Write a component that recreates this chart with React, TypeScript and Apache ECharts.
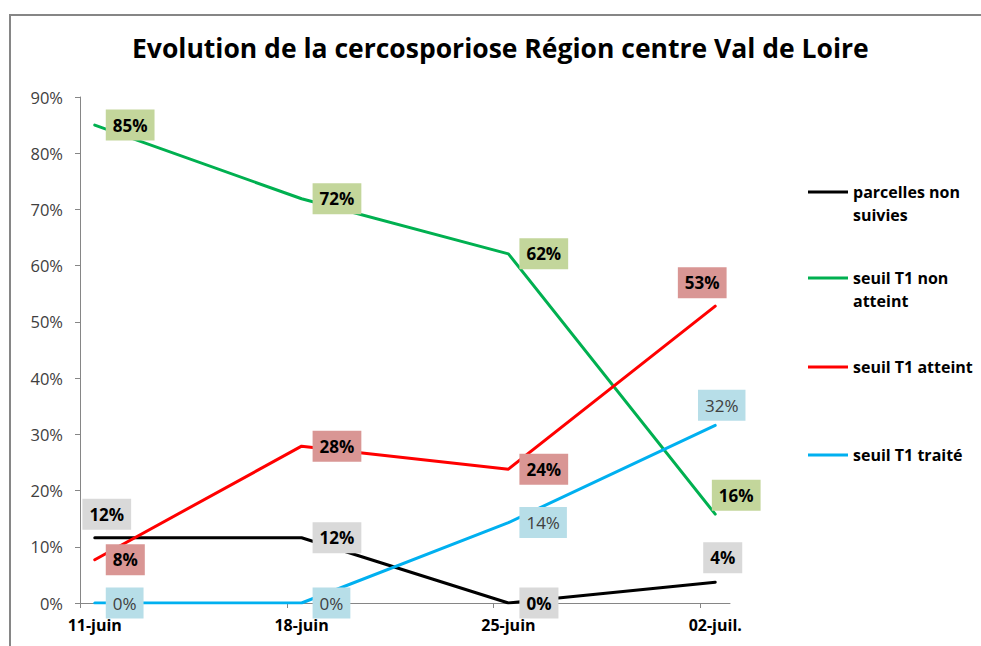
import React, { useEffect, useRef } from "react";
import * as echarts from "echarts";

// ---- data ----
const categories = ["11-juin", "18-juin", "25-juin", "02-juil."];
const seriesNames = [
  "parcelles non\nsuivies",
  "seuil T1 non\natteint",
  "seuil T1 atteint",
  "seuil T1 traité",
];
const parcellesNonSuivies = [0.116, 0.116, 0, 0.037];
const seuilNonAtteint = [0.85, 0.719, 0.621, 0.158];
const seuilAtteint = [0.077, 0.279, 0.238, 0.528];
const seuilTraite = [0, 0, 0.143, 0.316];
const yTicks = [0, 0.1, 0.2, 0.3, 0.4, 0.5, 0.6, 0.7, 0.8, 0.9];

// ---- styles ----
const FONT = "Open Sans";
const lineColors = ["#000000", "#00b050", "#ff0000", "#00b0f0"];
const labelBg = ["#d9d9d9", "#c3d69b", "#d99694", "#b7dee8"];
const labelColor = ["#000", "#000", "#000", "#404040"];
const labelWeight = ["bold", "bold", "bold", "normal"];

// label placement per series / point: "r" = right of point, otherwise [dx, dy] of box centre
const placements: any[][] = [
  [[12, -23.5], "r", "r", [7.5, -24.5]],
  ["r", "r", "r", [21, -19]],
  ["r", "r", "r", [-13, -23.5]],
  ["r", "r", "r", [6.5, -20]],
];
const legendTops = [157.5, 243.5, 355.5, 443.5];

const xPos = (i: number) => i * 7 + 0.5;

export default function App() {
  const ref = useRef<HTMLDivElement>(null);
  useEffect(() => {
    if (!ref.current) return;
    const chart = echarts.init(ref.current, null, { renderer: "svg" });
    const values = [parcellesNonSuivies, seuilNonAtteint, seuilAtteint, seuilTraite];
    const series = values.map((vals, s) => ({
      type: "line",
      name: seriesNames[s],
      symbol: "circle",
      symbolSize: 1,
      color: lineColors[s],
      lineStyle: { width: 3, color: lineColors[s], cap: "round", join: "round" },
      itemStyle: { color: lineColors[s] },
      data: vals.map((v, i) => {
        const p = placements[s][i];
        const lab =
          p === "r"
            ? { position: [11.5, 0.5], align: "left", verticalAlign: "middle" }
            : { position: [p[0] + 0.5, p[1] + 0.5], align: "center", verticalAlign: "middle" };
        return { value: [xPos(i), v], label: lab };
      }),
      label: {
        show: true,
        formatter: (pr: any) => Math.round(pr.value[1] * 100) + "%",
        fontFamily: FONT,
        fontSize: 17,
        fontWeight: labelWeight[s],
        color: labelColor[s],
        backgroundColor: labelBg[s],
        padding: [6, 7, 6, 7],
        lineHeight: 19,
      },
      emphasis: { disabled: true },
      z: 2 + s,
    }));
    const legends = seriesNames.map((n, s) => ({
      data: [{ name: n, icon: "rect" }],
      left: 808,
      top: legendTops[s],
      padding: 0,
      itemWidth: 40,
      itemHeight: 3,
      selectedMode: false,
      formatter: (name: string) => (name.includes("\n") ? "\n" + name : name),
      textStyle: {
        fontFamily: FONT,
        fontSize: 16,
        fontWeight: "bold",
        color: "#000",
        lineHeight: 23,
      },
    }));
    chart.setOption({
      animation: false,
      title: {
        text: "Evolution de la cercosporiose Région centre Val de Loire",
        left: 132,
        top: 34,
        padding: 0,
        textStyle: { fontFamily: FONT, fontSize: 26.5, fontWeight: "bold", color: "#000" },
      },
      graphic: [
        {
          type: "rect",
          shape: { x: 10, y: 15, width: 1000, height: 700 },
          style: { fill: "none", stroke: "#868686", lineWidth: 2 },
          silent: true,
        },
      ],
      legend: legends,
      grid: { left: 80, right: 251, top: 97, bottom: 43, containLabel: false },
      xAxis: {
        type: "value",
        min: 0,
        max: 22,
        splitLine: { show: false },
        axisLine: { show: true, lineStyle: { color: "#868686", width: 1 } },
        axisTick: { show: true, inside: false, length: 5, customValues: [0, 7, 14, 21], lineStyle: { color: "#868686" } },
        axisLabel: {
          customValues: categories.map((_, i) => xPos(i)),
          formatter: (v: number) => categories[Math.round((v - 0.5) / 7)] ?? "",
          fontFamily: FONT,
          fontSize: 16,
          fontWeight: "bold",
          color: "#000",
          margin: 14,
        },
      },
      yAxis: {
        type: "value",
        min: 0,
        max: 0.9,
        interval: 0.1,
        splitLine: { show: false },
        axisLine: { show: true, lineStyle: { color: "#868686", width: 1 } },
        axisTick: { show: true, inside: false, length: 5, lineStyle: { color: "#868686" } },
        axisLabel: {
          formatter: (v: number) => Math.round(v * 100) + "%",
          fontFamily: FONT,
          fontSize: 16.5,
          color: "#404040",
          margin: 17,
          customValues: yTicks,
        },
      },
      series,
    });
    return () => chart.dispose();
  }, []);
  return (
    <div
      ref={ref}
      style={{ position: "fixed", left: 0, top: 0, width: 981, height: 646, background: "#fff" }}
    />
  );
}
